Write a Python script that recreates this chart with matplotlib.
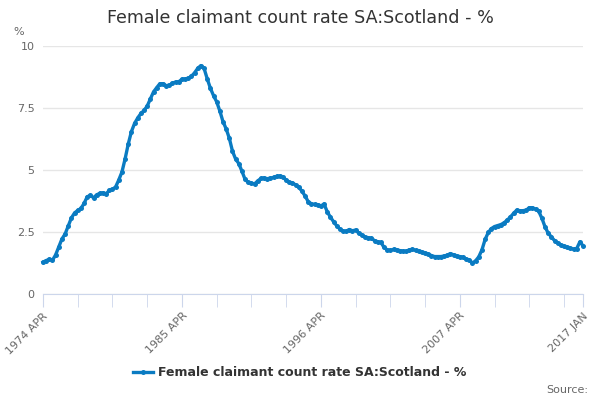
import numpy as np
import matplotlib
matplotlib.use("Agg")
import matplotlib.pyplot as plt

# quarterly readings, Apr 1974 .. Jan 2017 (every 3 months)
rate = [
    1.28, 1.35, 1.40, 1.36, 1.58, 1.90, 2.22, 2.42, 2.74, 3.07,
    3.27, 3.37, 3.45, 3.65, 3.92, 3.98, 3.88, 4.00, 4.06, 4.08,
    4.04, 4.18, 4.22, 4.32, 4.60, 4.92, 5.45, 6.05, 6.55, 6.88,
    7.10, 7.28, 7.40, 7.58, 7.86, 8.15, 8.32, 8.48, 8.48, 8.40,
    8.42, 8.50, 8.55, 8.56, 8.66, 8.67, 8.70, 8.78, 8.92, 9.10,
    9.21, 9.10, 8.68, 8.30, 8.00, 7.75, 7.38, 6.95, 6.66, 6.28,
    5.76, 5.44, 5.26, 4.95, 4.62, 4.50, 4.46, 4.44, 4.56, 4.66,
    4.68, 4.65, 4.67, 4.70, 4.74, 4.76, 4.70, 4.60, 4.50, 4.48,
    4.40, 4.30, 4.15, 3.95, 3.72, 3.64, 3.61, 3.60, 3.55, 3.63,
    3.32, 3.10, 2.92, 2.75, 2.62, 2.53, 2.53, 2.60, 2.55, 2.58,
    2.45, 2.37, 2.30, 2.27, 2.25, 2.15, 2.10, 2.08, 1.88, 1.78,
    1.76, 1.80, 1.78, 1.75, 1.73, 1.72, 1.78, 1.80, 1.76, 1.73,
    1.68, 1.65, 1.61, 1.55, 1.51, 1.51, 1.51, 1.53, 1.56, 1.63,
    1.58, 1.52, 1.51, 1.48, 1.41, 1.37, 1.25, 1.34, 1.50, 1.78,
    2.20, 2.48, 2.64, 2.72, 2.76, 2.80, 2.87, 2.98, 3.10, 3.25,
    3.38, 3.35, 3.36, 3.38, 3.48, 3.48, 3.42, 3.33, 3.05, 2.70,
    2.45, 2.30, 2.15, 2.05, 1.97, 1.92, 1.88, 1.84, 1.81, 1.83,
    2.10, 1.95,
]
label_months = [0, 132, 264, 396, 513]
label_text = ["1974 APR", "1985 APR", "1996 APR", "2007 APR", "2017 JAN"]
y_ticks = [0, 2.5, 5, 7.5, 10]
y_labels = ["0", "2.5", "5", "7.5", "10"]
series_name = "Female claimant count rate SA:Scotland - %"

months = np.arange(len(rate)) * 3
blue = "#0a7bc2"

fig = plt.figure(figsize=(6, 4), dpi=100)
ax = fig.add_axes([43 / 600, 1 - 294 / 400, 540 / 600, 248 / 400])

ax.plot(months, rate, color=blue, lw=2.4, marker="o", ms=3.6, mew=0,
        clip_on=False, label=series_name, zorder=3)

ax.set_xlim(0, 513)
ax.set_ylim(0, 10)
ax.set_yticks(y_ticks)
ax.set_yticklabels(y_labels)
ax.tick_params(axis="y", length=0, pad=6, labelsize=8, labelcolor="#666666")
ax.grid(axis="y", color="#e6e6e6", lw=1)
ax.set_axisbelow(True)

# every 33 months a tick, labels only every 4th
ax.set_xticks(label_months)
ax.set_xticklabels(label_text, rotation=45, ha="right", va="top",
                   rotation_mode="anchor")
ax.set_xticks(list(np.arange(0, 513, 33)) + [513], minor=True)
ax.tick_params(axis="x", which="both", length=9, color="#ccd6eb",
               labelsize=8, labelcolor="#666666", pad=3)

for side in ["top", "right", "left"]:
    ax.spines[side].set_visible(False)
ax.spines["bottom"].set_color("#ccd6eb")

fig.text(0.5, 1 - 18 / 400, "Female claimant count rate SA:Scotland - %",
         ha="center", va="center", fontsize=12.6, color="#333333")
fig.text(13 / 600, 1 - 32 / 400, "%", ha="left", va="center",
         fontsize=8, color="#666666")

fig.legend(loc="center", bbox_to_anchor=(0.5, 1 - 373 / 400), frameon=False,
           prop={"weight": "bold", "size": 9}, labelcolor="#333333",
           handlelength=1.6, handletextpad=0.4)
fig.text(588 / 600, 1 - 390 / 400, "Source:", ha="right", va="center",
         fontsize=8, color="#666666")

fig.savefig("out.png", dpi=100)
